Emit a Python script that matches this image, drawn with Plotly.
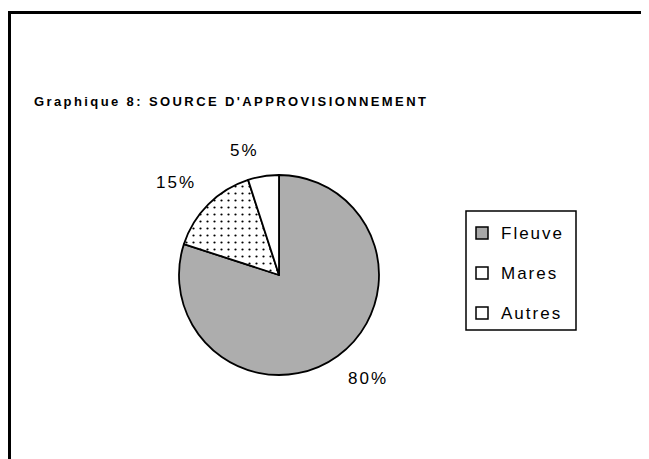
import math
import plotly.graph_objects as go

labels = ["Fleuve", "Mares", "Autres"]
values = [80, 15, 5]
title_text = "Graphique 8: SOURCE D'APPROVISIONNEMENT"

W, H = 649, 459
OFF = 8  # page body margin: figure is drawn at (8, 8) in the window


def px(x):
    return (x - OFF) / W


def py(y):
    return 1 - (y - OFF) / H


pattern = dict(
    shape=[".", ".", ""],
    size=[2, 7, 8],
    solidity=[0.5, 0.08, 0.1],
    fgcolor=["#6e6e6e", "#000000", "#000000"],
    bgcolor=["#dedede", "#ffffff", "#ffffff"],
    fillmode="replace",
)
swatch_fill = ["#a8a8a8", "#ffffff", "#ffffff"]


def spaced(t, ls):
    return f'<span style="letter-spacing:{ls}px">{t}</span>'


FONT = "Liberation Sans, Arial"
cx, cy, r = 279, 275, 100
fig = go.Figure(go.Pie(
    labels=labels,
    values=values,
    sort=False,
    direction="clockwise",
    rotation=0,
    textinfo="none",
    marker=dict(colors=["#dedede", "#ffffff", "#ffffff"], pattern=pattern,
                line=dict(color="#000000", width=1.8)),
    domain=dict(x=[px(cx - r), px(cx + r)], y=[py(cy + r), py(cy - r)]),
    showlegend=False,
    hoverinfo="label+percent",
))

shapes = [
    # chart border (top and left visible)
    dict(type="line", xref="paper", yref="paper", x0=px(9.5), x1=1.05, y0=py(12.5), y1=py(12.5),
         line=dict(color="#000000", width=3)),
    dict(type="line", xref="paper", yref="paper", x0=px(9.5), x1=px(9.5), y0=py(11), y1=-0.05,
         line=dict(color="#000000", width=3)),
    # legend box
    dict(type="rect", xref="paper", yref="paper", x0=px(466), x1=px(576), y0=py(330), y1=py(211),
         line=dict(color="#000000", width=1.5), fillcolor="#ffffff"),
]
annotations = [
    dict(text="<b>" + spaced(title_text, 2.4) + "</b>", xref="paper", yref="paper",
         x=px(32), y=py(102), xanchor="left", yanchor="middle", showarrow=False,
         font=dict(family=FONT, size=13, color="#000000")),
]

# percentage labels placed outside the slices, at each slice's mid angle
total = sum(values)
cum = 0
for v in values:
    mid = (cum + v / 2) / total * 2 * math.pi  # clockwise from 12 o'clock
    cum += v
    dx, dy = math.sin(mid), -math.cos(mid)  # screen coords (y down)
    rr = r + 14
    ax, ay = cx + rr * dx, cy + rr * dy
    annotations.append(dict(
        text=spaced(f"{round(v / total * 100)}%", 2), xref="paper", yref="paper",
        x=px(ax), y=py(ay),
        xanchor="left" if dx > 0.05 else ("right" if dx < -0.05 else "center"),
        yanchor="top" if dy > 0 else "bottom",
        showarrow=False, font=dict(family=FONT, size=17, color="#000000")))

row_y = [233, 273, 313]
for i, lab in enumerate(labels):
    yc = row_y[i]
    shapes.append(dict(type="rect", xref="paper", yref="paper",
                       x0=px(476), x1=px(488), y0=py(yc + 6), y1=py(yc - 6),
                       line=dict(color="#000000", width=1.5), fillcolor=swatch_fill[i]))
    annotations.append(dict(text=spaced(lab, 2), xref="paper", yref="paper",
                            x=px(499), y=py(yc), xanchor="left", yanchor="middle",
                            showarrow=False,
                            font=dict(family=FONT, size=17, color="#000000")))

fig.update_layout(
    width=W, height=H,
    margin=dict(l=0, r=0, t=0, b=0),
    paper_bgcolor="#ffffff",
    plot_bgcolor="#ffffff",
    shapes=shapes,
    annotations=annotations,
)
fig.write_html("out.html")
